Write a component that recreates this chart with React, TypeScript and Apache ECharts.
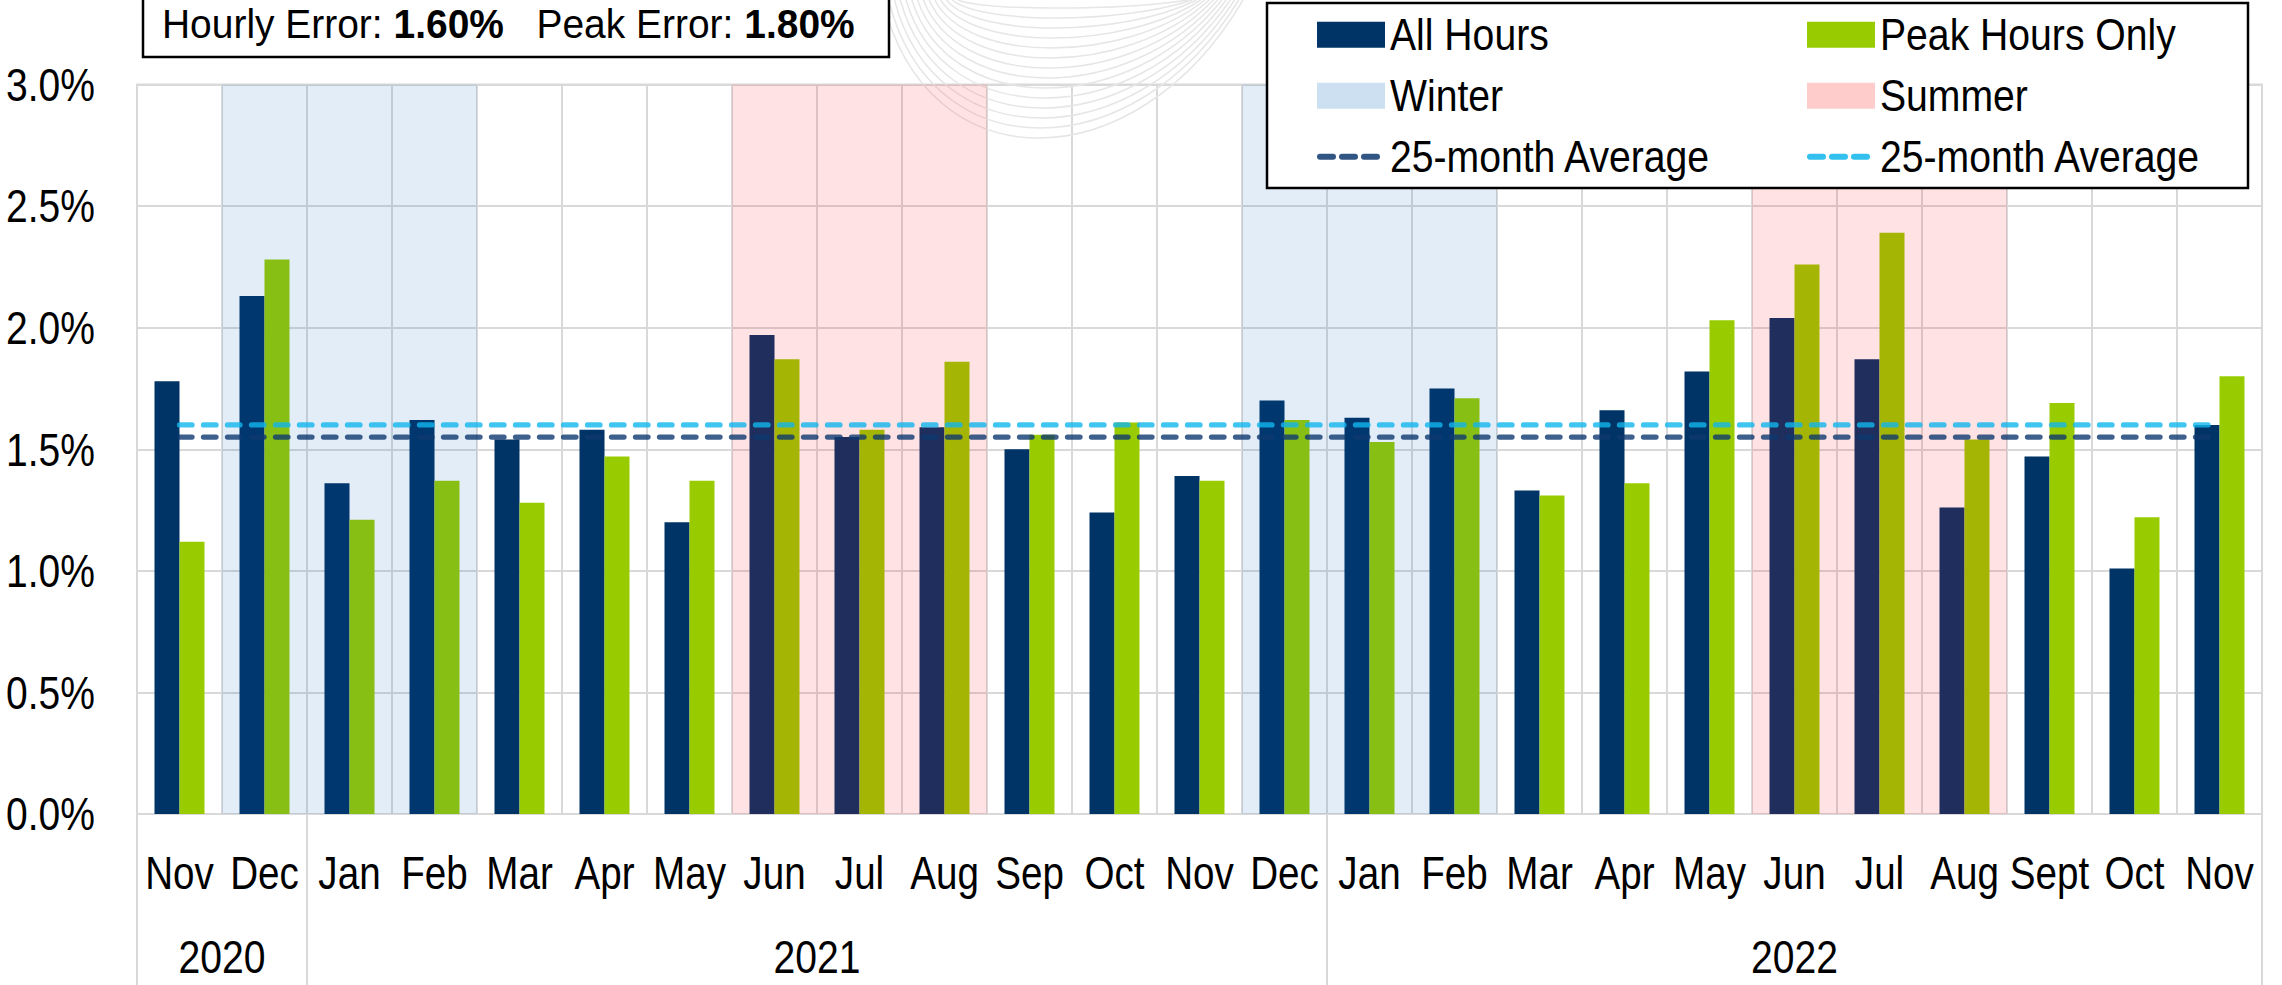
import React, { useEffect, useRef } from "react";
import * as echarts from "echarts";

// ---------------- data ----------------
const months = ["Nov", "Dec", "Jan", "Feb", "Mar", "Apr", "May", "Jun", "Jul", "Aug", "Sep", "Oct", "Nov", "Dec", "Jan", "Feb", "Mar", "Apr", "May", "Jun", "Jul", "Aug", "Sept", "Oct", "Nov"];
const allHours = [1.78, 2.13, 1.36, 1.62, 1.54, 1.58, 1.2, 1.97, 1.55, 1.59, 1.5, 1.24, 1.39, 1.7, 1.63, 1.75, 1.33, 1.66, 1.82, 2.04, 1.87, 1.26, 1.47, 1.01, 1.6];
const peakHours = [1.12, 2.28, 1.21, 1.37, 1.28, 1.47, 1.37, 1.87, 1.58, 1.86, 1.56, 1.61, 1.37, 1.62, 1.53, 1.71, 1.31, 1.36, 2.03, 2.26, 2.39, 1.54, 1.69, 1.22, 1.8];
const avgAllHours = 1.55;
const avgPeakHours = 1.6;
const years = ["2020", "2021", "2022"];
const yearStart = [0, 2, 14];
const yearMonthCount = [2, 12, 11];
const winterMonths = [1, 2, 3, 13, 14, 15];
const summerMonths = [7, 8, 9, 19, 20, 21];
const yMin = 0;
const yMax = 3;
const yStep = 0.5;
const hourlyError = "1.60%";
const peakError = "1.80%";
const legendLeftCol = ["All Hours", "Winter", "25-month Average"];
const legendRightCol = ["Peak Hours Only", "Summer", "25-month Average"];

// ---------------- styling ----------------
const FONT = "'Liberation Sans', Arial, sans-serif";
const NAVY = "#003366";
const GREEN = "#99CC00";
const GRID = "#d9d9d9";
const AVG_NAVY = "#0E386F";
const AVG_CYAN = "#10B5EC";
const WINTER_SWATCH = "#CCE0F2";
const SUMMER_SWATCH = "#FFCCCC";

export default function App() {
  const ref = useRef<HTMLDivElement>(null);

  useEffect(() => {
    if (!ref.current) return;
    const chart = echarts.init(ref.current, undefined, { renderer: "svg" });

    const n = months.length;
    const slots = n * 2 + 1;
    const yearSlots: string[] = new Array(slots).fill("");
    const separators = new Set<number>([slots - 1]);
    years.forEach((y, i) => separators.add(yearStart[i] * 2));

    const bandItem = (fill: string) => (params: any, api: any) => {
      const idx = api.value(0);
      const top = api.coord([idx, yMax]);
      const bot = api.coord([idx, yMin]);
      const w = api.size([1, 0])[0];
      return {
        type: "rect",
        shape: { x: top[0] - w / 2, y: top[1], width: w, height: bot[1] - top[1] },
        style: { fill },
      };
    };

    const dashed = (color: string) => ({
      color,
      width: 5.3,
      type: [12.5, 11.5],
      cap: "round",
      opacity: 0.8,
    });

    chart.setOption({
      animation: false,
      backgroundColor: "#ffffff",
      textStyle: { fontFamily: FONT },
      grid: {
        left: 137,
        right: 20,
        top: 84.5,
        bottom: 171,
        show: true,
        borderColor: GRID,
        borderWidth: 2,
      },
      xAxis: [
        {
          type: "category",
          data: months,
          boundaryGap: true,
          position: "bottom",
          axisLine: { show: true, lineStyle: { color: GRID, width: 2 } },
          axisTick: { show: false },
          splitLine: { show: true, interval: 0, lineStyle: { color: GRID, width: 2 } },
          axisLabel: { show: false },
        },
        {
          type: "category",
          data: yearSlots,
          boundaryGap: false,
          position: "bottom",
          axisLine: { show: false },
          axisTick: {
            show: true,
            length: 171,
            interval: (index: number) => separators.has(index),
            lineStyle: { color: GRID, width: 2 },
          },
          axisLabel: { show: false },
        },
      ],
      yAxis: {
        type: "value",
        min: yMin,
        max: yMax,
        interval: yStep,
        axisLine: { show: false },
        axisTick: { show: false },
        splitLine: { show: true, lineStyle: { color: GRID, width: 2 } },
        axisLabel: { show: false },
      },
      series: [
        {
          name: "All Hours",
          type: "bar",
          data: allHours,
          barWidth: 25,
          barGap: "0%",
          itemStyle: { color: NAVY },
          z: 2,
        },
        {
          name: "Peak Hours Only",
          type: "bar",
          data: peakHours,
          barWidth: 25,
          barGap: "0%",
          itemStyle: { color: GREEN },
          z: 2,
        },
        {
          name: "Winter",
          type: "custom",
          data: winterMonths.map((m) => [m, yMax]),
          encode: { x: 0, y: 1 },
          renderItem: bandItem("rgba(0,90,190,0.11)"),
          silent: true,
          z: 3,
        },
        {
          name: "Summer",
          type: "custom",
          data: summerMonths.map((m) => [m, yMax]),
          encode: { x: 0, y: 1 },
          renderItem: bandItem("rgba(255,15,30,0.12)"),
          silent: true,
          z: 3,
        },
        {
          name: "25-month Average (All Hours)",
          type: "line",
          data: [[0, avgAllHours], [n - 1, avgAllHours]],
          symbol: "none",
          lineStyle: dashed(AVG_NAVY),
          z: 5,
        },
        {
          name: "25-month Average (Peak Hours)",
          type: "line",
          data: [[0, avgPeakHours], [n - 1, avgPeakHours]],
          symbol: "none",
          lineStyle: dashed(AVG_CYAN),
          z: 5,
        },
      ],
    });

    // ---------- texts placed through the chart's own scales ----------
    const px = (i: number, v: number) =>
      chart.convertToPixel({ xAxisIndex: 0, yAxisIndex: 0 }, [i, v]) as number[];

    const txt = (text: string, x: number, y: number, align: string, fontSize: number, sx: number, bold = false) => ({
      type: "text",
      x,
      y,
      scaleX: sx,
      z: 12,
      silent: true,
      style: {
        text,
        align,
        verticalAlign: "middle",
        fontFamily: FONT,
        fontSize,
        fontWeight: bold ? "bold" : "normal",
        lineHeight: fontSize,
        fill: "#000",
      },
    });

    const baseY = px(0, yMin)[1];
    const texts: any[] = [];
    months.forEach((m, i) => texts.push(txt(m, px(i, yMin)[0], baseY + 59, "center", 46, 0.84)));
    years.forEach((y, i) => {
      const a = px(yearStart[i], yMin)[0];
      const b = px(yearStart[i] + yearMonthCount[i] - 1, yMin)[0];
      texts.push(txt(y, (a + b) / 2, baseY + 143, "center", 46, 0.85));
    });
    const leftX = px(0, yMin)[0] - (px(1, yMin)[0] - px(0, yMin)[0]) / 2;
    for (let v = yMin; v <= yMax + 1e-9; v += yStep) {
      texts.push(txt(v.toFixed(1) + "%", leftX - 42, px(0, v)[1], "right", 47, 0.83));
    }

    // decorative watermark arcs
    const arcs: any[] = [];
    const N = 14;
    for (let i = 0; i < N; i++) {
      const t = i / (N - 1);
      const xl = 883 + 75 * t;
      const xr = 1243 - 55 * t;
      const d = 138 - 130 * t;
      arcs.push({
        type: "bezierCurve",
        silent: true,
        z: 1,
        shape: {
          x1: xl, y1: 0,
          cpx1: xl + 0.12 * (xr - xl), cpy1: (d * 4) / 3,
          cpx2: xr - 0.3 * (xr - xl), cpy2: (d * 4) / 3,
          x2: xr, y2: 0,
        },
        style: { stroke: "#e6e6e6", lineWidth: 1.5, fill: null },
      });
    }

    // legend (drawn as graphics so the narrow lettering can be matched)
    const legendRows = [34.7, 95.7, 156.7];
    const legendCols = [1317, 1807];
    const swatchW = 68;
    const swatchH = 26;
    const legendEls: any[] = [];
    const swatch = (x: number, y: number, color: string) => ({
      type: "rect",
      z: 12,
      silent: true,
      shape: { x, y: y - swatchH / 2, width: swatchW, height: swatchH },
      style: { fill: color },
    });
    const dash = (x: number, y: number, color: string) => ({
      type: "line",
      z: 12,
      silent: true,
      shape: { x1: x + 3, y1: y, x2: x + swatchW - 3, y2: y },
      style: { stroke: color, lineWidth: 6, lineDash: [13, 9], lineCap: "round", opacity: 0.85 },
    });
    const cols = [
      { names: legendLeftCol, marks: [NAVY, WINTER_SWATCH, AVG_NAVY] },
      { names: legendRightCol, marks: [GREEN, SUMMER_SWATCH, AVG_CYAN] },
    ];
    cols.forEach((c, ci) => {
      const x = legendCols[ci];
      c.names.forEach((name, ri) => {
        const y = legendRows[ri];
        legendEls.push(ri < 2 ? swatch(x, y, c.marks[ri]) : dash(x, y, c.marks[ri]));
        legendEls.push(txt(name, x + swatchW + 5, y, "left", 45, 0.87));
      });
    });

    chart.setOption({
      graphic: [
        ...arcs,
        {
          type: "rect",
          z: 10,
          shape: { x: 143, y: -10, width: 746, height: 67 },
          style: { fill: "#fff", stroke: "#000", lineWidth: 2.5 },
        },
        {
          type: "text",
          z: 11,
          x: 162,
          y: 24,
          scaleX: 0.95,
          style: {
            text: `{n|Hourly Error: }{b|${hourlyError}}{n|   Peak Error: }{b|${peakError}}`,
            verticalAlign: "middle",
            rich: {
              n: { fontFamily: FONT, fontSize: 41, lineHeight: 36, fill: "#000" },
              b: { fontFamily: FONT, fontSize: 41, lineHeight: 36, fontWeight: "bold", fill: "#000" },
            },
          },
        },
        {
          type: "rect",
          z: 10,
          shape: { x: 1267, y: 3, width: 981, height: 185 },
          style: { fill: "#fff", stroke: "#000", lineWidth: 2.5 },
        },
        ...legendEls,
        ...texts,
      ],
    });

    return () => chart.dispose();
  }, []);

  return (
    <div
      ref={ref}
      style={{ position: "absolute", left: 0, top: 0, width: 2282, height: 985, background: "#fff" }}
    />
  );
}
